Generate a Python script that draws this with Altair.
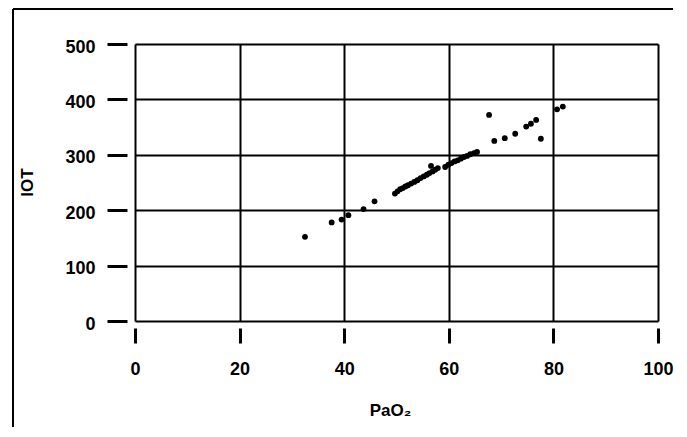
import altair as alt
import pandas as pd

pao2 = [32.5, 37.6, 39.5, 40.8, 43.7, 45.8,
        49.7, 50.2, 50.7, 51.2, 51.7, 52.2, 52.8, 53.4, 54.0, 54.6, 55.2, 55.8, 56.3, 56.6, 56.9, 57.4, 57.9,
        59.3, 59.9, 60.5, 61.1, 61.7, 62.3, 62.9, 63.5, 64.1, 64.8, 65.4,
        67.7, 68.7, 70.7, 72.7, 74.8, 75.7, 76.7, 77.6, 80.7, 81.8]
iot = [152, 178, 183, 191, 202, 216,
       230, 234, 238, 240, 243, 245, 248, 251, 254, 258, 261, 264, 267, 280, 270, 273, 276,
       278, 282, 285, 288, 290, 293, 296, 298, 301, 303, 305,
       372, 325, 330, 338, 351, 356, 363, 329, 382, 387]
x_ticks = [0, 20, 40, 60, 80, 100]
y_ticks = [0, 100, 200, 300, 400, 500]

df = pd.DataFrame({"PaO2": pao2, "IOT": iot})
FONT = "Liberation Sans"

points = alt.Chart(df).mark_circle(size=34, color="black", opacity=1).encode(
    x=alt.X("PaO2:Q", scale=alt.Scale(domain=[0, 100], nice=False, zero=False),
            axis=alt.Axis(values=x_ticks, grid=True, gridColor="black", gridWidth=2, gridOpacity=1,
                          domain=False, ticks=True, tickColor="black", tickWidth=3, tickSize=15,
                          offset=7, labelFont=FONT, labelFontSize=18, labelFontWeight="bold",
                          labelColor="black", labelBaseline="middle", labelPadding=26,
                          labelFlush=False,
                          title="PaO₂", titleFont=FONT, titleFontSize=17, titleFontWeight="bold",
                          titleColor="black", titleX=255, titleY=82, titleAlign="center",
                          titleBaseline="middle", titleAnchor="middle")),
    y=alt.Y("IOT:Q", scale=alt.Scale(domain=[0, 500], nice=False),
            axis=alt.Axis(values=y_ticks, grid=True, gridColor="black", gridWidth=2, gridOpacity=1,
                          domain=False, ticks=True, tickColor="black", tickWidth=3, tickSize=20,
                          offset=8, labelFont=FONT, labelFontSize=18, labelFontWeight="bold",
                          labelColor="black", labelPadding=12, labelOffset=3, labelFlush=False,
                          title="IOT", titleFont=FONT, titleFontSize=17, titleFontWeight="bold",
                          titleColor="black", titleX=-100, titleY=138, titleAngle=270,
                          titleAlign="center", titleBaseline="middle")),
)

frame_df = pd.DataFrame({"k": [0]})
left_line = alt.Chart(frame_df).mark_rule(color="black", strokeWidth=2).encode(
    x=alt.value(-122), y=alt.value(-35), y2=alt.value(440))
top_line = alt.Chart(frame_df).mark_rule(color="black", strokeWidth=2).encode(
    x=alt.value(-122), x2=alt.value(538), y=alt.value(-35))

chart = alt.layer(points, left_line, top_line).properties(
    width=523, height=277,
    autosize=alt.AutoSizeParams(type="none"),
    padding={"left": 127, "top": 36, "right": 20, "bottom": 106},
).configure_view(stroke="black", strokeWidth=2.5).configure(background="white")

chart.save("out.html", embed_options={"renderer": "svg", "actions": False})
